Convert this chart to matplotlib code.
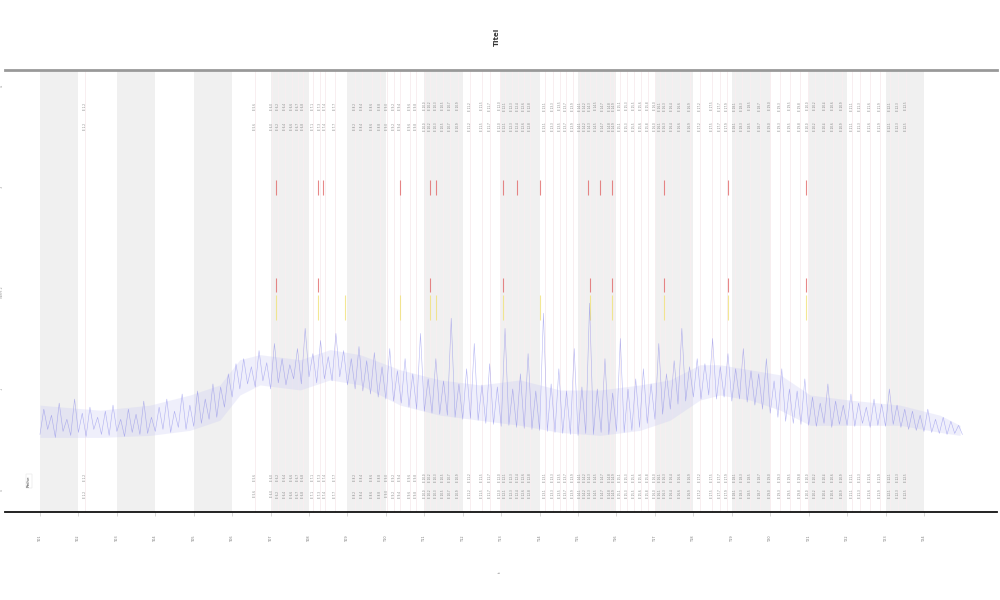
import numpy as np
import matplotlib
matplotlib.use("Agg")
import matplotlib.pyplot as plt

# ---------------- data ----------------
series_values = [
    0.55,0.80,0.60,0.74,0.52,0.86,0.58,0.70,0.54,0.90,0.57,0.76,0.53,0.82,0.60,0.72,
    0.55,0.78,0.54,0.84,0.58,0.70,0.53,0.80,0.57,0.75,0.55,0.88,0.56,0.72,0.58,
    0.82,0.60,0.90,0.57,0.78,0.62,0.95,0.60,0.84,0.63,
    0.98,0.66,0.90,0.70,1.05,0.72,
    1.02,0.82,1.15,0.92,1.25,1.00,
    1.30,1.05,1.22,1.02,1.38,1.08,1.26,1.00,1.45,1.06,1.30,1.04,1.24,
    1.10,1.40,1.05,1.60,1.12,1.35,1.06,1.48,1.10,1.32,1.08,1.55,1.12,1.38,1.04,
    1.30,1.00,1.42,0.98,1.28,0.95,1.36,0.92,1.22,0.90,1.40,0.88,1.18,0.86,1.30,
    0.82,1.15,0.80,1.55,0.78,1.10,0.76,1.30,0.75,1.08,0.74,1.70,0.72,1.05,0.70,1.20,0.71,1.45,0.69,1.04,
    0.66,1.25,0.65,1.02,0.63,1.60,0.64,1.00,0.62,1.15,0.61,1.35,0.60,0.98,0.59,1.75,0.58,1.05,0.57,1.20,
    0.56,0.98,0.55,1.40,0.54,1.02,0.56,1.85,0.55,1.00,0.57,1.30,0.55,0.96,0.58,1.50,0.57,1.00,0.59,1.10,
    0.62,1.20,0.66,1.05,0.70,1.45,0.75,1.15,0.80,1.28,0.85,1.60,0.88,1.22,0.92,
    1.30,0.90,1.25,0.94,1.50,0.90,1.22,0.92,1.35,0.88,1.20,0.90,1.40,0.87,1.18,
    0.84,1.15,0.80,1.30,0.76,1.08,0.72,1.20,0.68,1.00,0.66,0.98,0.65,1.10,0.64,
    0.92,0.63,0.86,0.66,1.05,0.62,0.88,0.65,0.84,0.64,0.95,0.63,0.86,0.66,0.82,0.62,0.90,0.64,0.85,0.63,1.00,0.65,0.84,0.62,0.80,
    0.60,0.78,0.59,0.74,0.58,0.80,0.57,0.70,0.56,0.72,0.55,0.68,0.56,0.64,0.55,
]
series_x = np.linspace(0, 24, len(series_values))

# envelope of the dense band
band_x = [0, 1.56, 2.86, 3.90, 4.68, 5.20, 5.72, 6.77, 7.55, 8.33, 9.37, 10.41, 11.45,
          12.49, 13.53, 14.57, 15.61, 16.39, 17.17, 17.69, 18.48, 19.26, 20.04, 21.08,
          22.38, 23.42, 23.94]
band_low = [0.52, 0.52, 0.54, 0.59, 0.69, 0.94, 1.04, 0.99, 1.09, 1.04, 0.84, 0.74, 0.69,
            0.64, 0.57, 0.54, 0.59, 0.69, 0.89, 0.94, 0.89, 0.79, 0.64, 0.64, 0.64, 0.57, 0.54]
band_high = [0.84, 0.79, 0.84, 0.94, 1.04, 1.29, 1.34, 1.29, 1.39, 1.34, 1.19, 1.09, 1.04,
             1.09, 0.99, 0.99, 1.04, 1.09, 1.24, 1.24, 1.19, 1.14, 0.94, 0.89, 0.84, 0.74, 0.64]

event_x = [1.17, 5.59, 6.04, 6.19, 6.38, 6.56, 6.71, 6.84, 7.10, 7.29, 7.42, 7.68,
           8.20, 8.38, 8.64, 8.85, 9.03, 9.21, 9.37, 9.63, 9.78, 10.02, 10.15, 10.30,
           10.49, 10.67, 10.88, 11.19, 11.50, 11.71, 11.97, 12.10, 12.28, 12.44, 12.59,
           12.75, 13.14, 13.35, 13.53, 13.69, 13.87, 14.05, 14.18, 14.31, 14.47, 14.65,
           14.83, 14.94, 15.09, 15.27, 15.46, 15.64, 15.82, 16.00, 16.13, 16.26, 16.45,
           16.65, 16.91, 17.17, 17.49, 17.69, 17.88, 18.08, 18.27, 18.48, 18.74, 19.00,
           19.26, 19.52, 19.78, 19.98, 20.17, 20.43, 20.63, 20.87, 21.13, 21.34, 21.60,
           21.86, 22.12, 22.33, 22.53]

red_high_x = [6.14, 7.23, 7.36, 9.37, 10.15, 10.30, 12.05, 12.41, 13.01, 14.26,
              14.57, 14.88, 16.24, 17.90, 19.93]
red_low_x = [6.14, 7.23, 10.15, 12.05, 14.31, 14.88, 16.24, 17.90, 19.93]
yellow_x = [6.14, 7.23, 7.94, 9.37, 10.15, 10.30, 12.05, 13.01, 14.31, 14.88,
            16.24, 17.90, 19.93]

band_starts = [0, 2, 4, 6, 8, 10, 12, 14, 16, 18, 20, 22]
xtick_pos = list(range(0, 24))
xtick_labels = ["T%02d" % (i + 1) for i in xtick_pos]
ytick_pos = [0, 1, 2, 3, 4]
ytick_labels = ["0", "1", "Wert 2", "3", "4"]

# ---------------- figure ----------------
fig = plt.figure(figsize=(10, 6), dpi=100)
ax = fig.add_axes([0.005, 1 - 512 / 600, 0.992, 442 / 600])
ax.set_xlim(-0.91, 24.90)
ax.set_ylim(-0.218, 4.158)

for s in band_starts:
    ax.axvspan(s, s + 1, color="#f0f0f0", lw=0, zorder=0)

for x in event_x:
    ax.axvline(x, color="#f8eef0", lw=0.7, zorder=1)
    for yy in (3.80, 3.60, 0.12, -0.04):
        ax.text(x, yy, "E %.1f" % x, rotation=90, fontsize=2.0, color="#808080",
                ha="center", va="center", zorder=3)

ax.vlines(red_high_x, 2.92, 3.07, color="#e06060", lw=0.8, alpha=0.75, zorder=4)
ax.vlines(red_low_x, 1.96, 2.10, color="#e06060", lw=0.8, alpha=0.75, zorder=4)
ax.vlines(yellow_x, 1.68, 1.93, color="#f0e070", lw=0.8, alpha=0.75, zorder=4)

ax.fill_between(band_x, band_low, band_high, color="#c8c8f4", alpha=0.28, lw=0, zorder=4)
ax.plot(series_x, series_values, color="#7070e6", lw=0.4, alpha=0.5, zorder=5)

# spines
ax.spines["left"].set_visible(False)
ax.spines["right"].set_visible(False)
ax.spines["top"].set_color("#999999")
ax.spines["top"].set_linewidth(2)
ax.spines["bottom"].set_color("#111111")
ax.spines["bottom"].set_linewidth(1.3)

ax.set_xticks(xtick_pos)
ax.set_xticklabels(xtick_labels, rotation=90, fontsize=2.5, color="#777777")
ax.tick_params(axis="x", length=3, width=0.4, color="#bbbbbb", pad=14)
ax.set_yticks(ytick_pos)
ax.set_yticklabels(ytick_labels, rotation=90, fontsize=2.5, color="#999999")
ax.tick_params(axis="y", length=0, pad=1)

ax.text(0.024, 0.07, "Reihe", transform=ax.transAxes, rotation=90, fontsize=3,
        color="#444444", ha="center", va="center",
        bbox=dict(boxstyle="square,pad=0.3", fc="white", ec="#dddddd", lw=0.3))

fig.text(0.497, 1 - 37 / 600, "Titel", rotation=90, fontsize=5, fontweight="bold",
         color="#333333", ha="center", va="center")
fig.text(0.5, 1 - 572 / 600, "t", rotation=90, fontsize=3, color="#777777",
         ha="center", va="center")

fig.savefig("out.png", dpi=100)
